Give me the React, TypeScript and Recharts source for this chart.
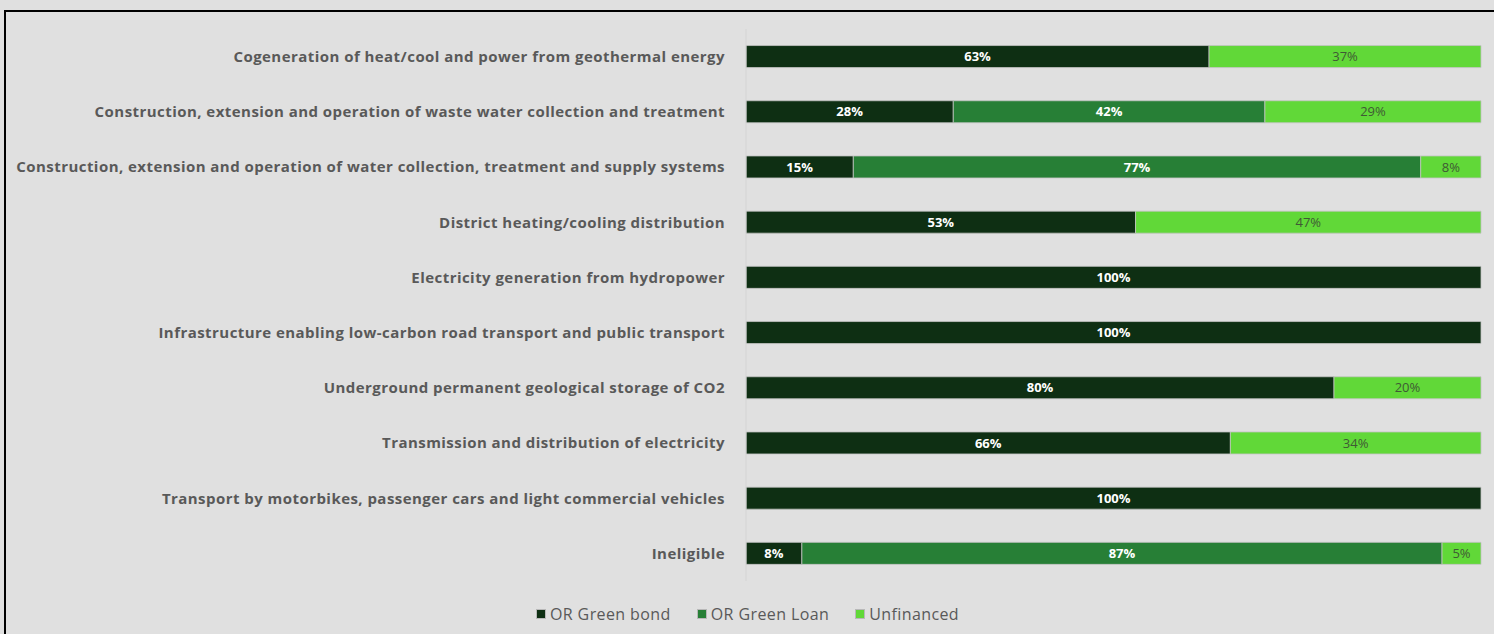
import React from 'react';
import { BarChart, Bar, XAxis, YAxis, Legend, LabelList } from 'recharts';

const categories = [
  'Cogeneration of heat/cool and power from geothermal energy',
  'Construction, extension and operation of waste water collection and treatment',
  'Construction, extension and operation of water collection, treatment and supply systems',
  'District heating/cooling distribution',
  'Electricity generation from hydropower',
  'Infrastructure enabling low-carbon road transport and public transport',
  'Underground permanent geological storage of CO2',
  'Transmission and distribution of electricity',
  'Transport by motorbikes, passenger cars and light commercial vehicles',
  'Ineligible',
];
const seriesNames = ['OR Green bond', 'OR Green Loan', 'Unfinanced'];
const seriesColors = ['#0e2f13', '#277f36', '#61d838'];
const greenBond = [63, 28.2, 14.6, 53, 100, 100, 80, 65.9, 100, 7.6];
const greenLoan = [0, 42.4, 77.2, 0, 0, 0, 0, 0, 0, 87.1];
const unfinanced = [37, 29.4, 8.2, 47, 0, 0, 20, 34.1, 0, 5.3];

const data = categories.map((c, i) => ({
  name: c,
  bond: greenBond[i],
  loan: greenLoan[i],
  unf: unfinanced[i],
}));

const FONT = '"Open Sans", Lato, sans-serif';
const fmt = (v: any) => (v && v > 0 ? `${Math.round(v)}%` : '');

const LegendContent = () => (
  <div style={{ display: 'flex', justifyContent: 'center', gap: 26, fontFamily: FONT, fontSize: 16, color: '#595959', letterSpacing: 0.4, paddingLeft: 14 }}>
    {seriesNames.map((n, i) => (
      <div key={n} style={{ display: 'flex', alignItems: 'center' }}>
        <span style={{ display: 'inline-block', width: 10, height: 10, background: seriesColors[i], border: '1px solid #b8b8b8', boxSizing: 'border-box', marginRight: 4 }} />
        <span>{n}</span>
      </div>
    ))}
  </div>
);

export default function App() {
  return (
    <div
      style={{
        position: 'absolute',
        left: 0,
        top: 0,
        width: 1494,
        height: 634,
        background: '#e0e0e0',
        overflow: 'hidden',
        fontFamily: FONT,
      }}
    >
      <div
        style={{
          position: 'absolute',
          left: 4,
          top: 10,
          width: 1600,
          height: 700,
          borderLeft: '2px solid #000',
          borderTop: '2px solid #000',
        }}
      />
      <div style={{ position: 'absolute', left: 0, top: 0 }}>
        <BarChart
          width={1494}
          height={634}
          data={data}
          layout="vertical"
          barCategoryGap="30%"
          margin={{ top: 29, right: 13, left: 0, bottom: 31 }}
        >
          <XAxis type="number" domain={[0, 100]} hide />
          <YAxis
            type="category"
            dataKey="name"
            width={746}
            axisLine={{ stroke: '#d4d4d4' }}
            tickLine={false}
            tickMargin={15}
            interval={0}
            tick={{ fill: '#595959', fontSize: 15, fontWeight: 700, fontFamily: FONT, letterSpacing: 0.45 }}
          />
          <Legend verticalAlign="bottom" align="center" content={<LegendContent />} wrapperStyle={{ bottom: 9 }} />
          <Bar dataKey="bond" name={seriesNames[0]} stackId="a" fill={seriesColors[0]} stroke="#c4c4c4" strokeWidth={0.8} isAnimationActive={false}>
            <LabelList dataKey="bond" position="center" formatter={fmt} fill="#ffffff" fontSize={13} fontWeight={700} fontFamily={FONT} />
          </Bar>
          <Bar dataKey="loan" name={seriesNames[1]} stackId="a" fill={seriesColors[1]} stroke="#c4c4c4" strokeWidth={0.8} isAnimationActive={false}>
            <LabelList dataKey="loan" position="center" formatter={fmt} fill="#ffffff" fontSize={13} fontWeight={700} fontFamily={FONT} />
          </Bar>
          <Bar dataKey="unf" name={seriesNames[2]} stackId="a" fill={seriesColors[2]} stroke="#c4c4c4" strokeWidth={0.8} isAnimationActive={false}>
            <LabelList dataKey="unf" position="center" formatter={fmt} fill="#3f5a35" fontSize={13} fontWeight={400} fontFamily={FONT} />
          </Bar>
        </BarChart>
      </div>
    </div>
  );
}
